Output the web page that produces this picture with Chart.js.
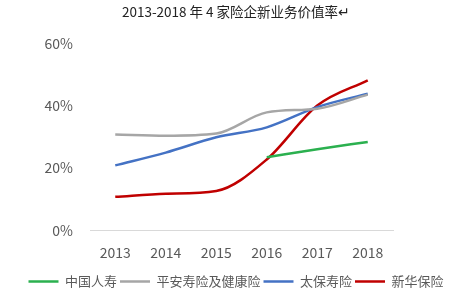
<!DOCTYPE html>
<html>
<head>
<meta charset="utf-8">
<script src="https://cdn.jsdelivr.net/npm/chart.js@4"></script>
<style>
  html, body { margin: 0; padding: 0; background: #fff; }
  #wrap { width: 460px; height: 298px; }
</style>
</head>
<body>
<div id="wrap"><canvas id="lineChart" width="460" height="298"></canvas></div>
<script>
const years = ['2013', '2014', '2015', '2016', '2017', '2018']
const chinaLife = [null, null, null, 23.4, 26, 28.3]
const pingAn = [30.7, 30.3, 31, 37.8, 39, 43.5]
const cpic = [20.8, 24.9, 29.8, 33, 39.5, 43.8]
const newChina = [10.7, 11.7, 12.6, 22.7, 40, 48.1]
const yTicks = [0, 20, 40, 60]

const font = "'Microsoft YaHei', 'Noto Sans CJK SC', 'Noto Sans', sans-serif"

function series (label, data, color) {
  return {
    label: label,
    data: data,
    borderColor: color,
    backgroundColor: color,
    borderWidth: 2.5,
    pointRadius: 0,
    cubicInterpolationMode: 'monotone',
    fill: false
  }
}

new Chart(document.getElementById('lineChart'), {
  type: 'line',
  data: {
    labels: years,
    datasets: [
      series('中国人寿', chinaLife, '#2bb04f'),
      series('平安寿险及健康险', pingAn, '#a6a6a6'),
      series('太保寿险', cpic, '#4472c4'),
      series('新华保险', newChina, '#c00000')
    ]
  },
  options: {
    responsive: false,
    animation: false,
    layout: {
      padding: { left: 12, right: 0, top: 0, bottom: 0 }
    },
    plugins: {
      title: {
        display: true,
        text: '2013-2018 年 4 家险企新业务价值率↵',
        color: '#222',
        font: { family: font, size: 13.5, weight: 'normal' },
        padding: { top: 4, bottom: 23 }
      },
      legend: {
        position: 'bottom',
        labels: {
          usePointStyle: true,
          pointStyle: 'line',
          pointStyleWidth: 30,
          padding: 3,
          color: '#595959',
          font: { family: font, size: 13 }
        }
      },
      tooltip: { enabled: false }
    },
    scales: {
      x: {
        offset: true,
        afterFit: axis => { axis.height += 5 },
        grid: { display: false },
        border: { display: true, color: '#d9d9d9', width: 1 },
        ticks: {
          color: '#595959',
          font: { family: font, size: 14 },
          padding: 6
        }
      },
      y: {
        min: 0,
        max: 60,
        afterBuildTicks: axis => {
          axis.ticks = yTicks.map(v => ({ value: v }))
        },
        afterFit: axis => { axis.width = 78 },
        grid: { display: false },
        border: { display: false },
        ticks: {
          color: '#595959',
          font: { family: font, size: 14 },
          padding: 9,
          callback: v => v + '%'
        }
      },
      right: {
        position: 'right',
        display: true,
        afterFit: axis => { axis.width = 67 },
        grid: { display: false },
        border: { display: false },
        ticks: { display: false }
      }
    }
  }
})
</script>
</body>
</html>
